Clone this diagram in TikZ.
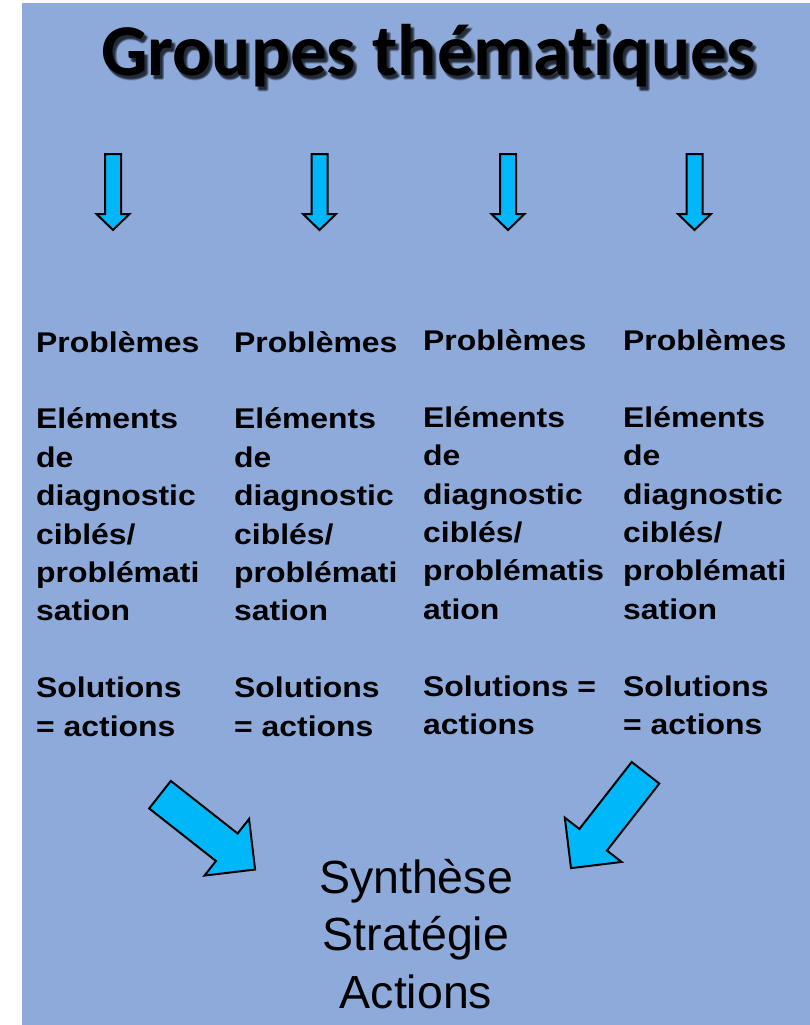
\documentclass[tikz,border=0pt]{standalone}
\usepackage{fontspec}
\setmainfont{Liberation Sans}
\newfontfamily\titlefont{Carlito}[Ligatures={NoCommon}]
\newfontfamily\colfont{Liberation Sans}[FakeStretch=1.12]
\definecolor{panelblue}{RGB}{142,170,219}
\definecolor{arrowcyan}{RGB}{0,183,250}
\tikzset{
  blockarrow/.style={draw=black, line width=2pt, fill=arrowcyan, line join=miter},
  coltext/.style={anchor=base west, inner sep=0pt, font=\colfont\bfseries\fontsize{28.5}{38.4}\selectfont},
  titletext/.style={anchor=base, inner sep=0pt, font=\titlefont\bfseries\fontsize{73}{80}\selectfont},
  down block/.pic={
    \draw[blockarrow] (-8,0) -- (8,0) -- (8,60) -- (16.5,60) -- (0,76)
      -- (-16.5,60) -- (-8,60) -- cycle;
  }
}
\newcommand{\diagblock}{%
  \draw[blockarrow] (0,-17.5) -- (85,-17.5) -- (85,-36) -- (121,0)
    -- (85,36) -- (85,17.5) -- (0,17.5) -- cycle;}
\newcommand{\colbody}[4]{\parbox[t]{200pt}{\raggedright Problèmes\\[38.4pt]
  Eléments\\ de\\ diagnostic\\ ciblés/\\ #1\\ #2\\[38.4pt] #3\\ #4}}
\begin{document}
\begin{tikzpicture}[x=1pt, y=-1pt]
  \useasboundingbox (0,0) rectangle (810,1025);
  % panel
  \fill[panelblue] (22,3) rectangle (810,1025);

  % title with soft drop shadow
  \foreach \dx/\dy [count=\i] in {3/3, 2/4, 4/2, 4/4, 2/2, 3/5}
    \node[titletext, text=black, opacity=0.2] (titleshadow\i) at (428.5+\dx, 76+\dy) {Groupes thématiques};
  \node[titletext] (title) at (428.5,76) {Groupes thématiques};

  % four downward arrows
  \pic at (113,154) {down block};
  \pic at (319.5,154) {down block};
  \pic at (508,154) {down block};
  \pic at (694.5,154) {down block};

  % columns of the thematic groups
  \node[coltext] (col1) at (36,352) {\colbody{problémati}{sation}{Solutions}{= actions}};
  \node[coltext] (col2) at (234,352) {\colbody{problémati}{sation}{Solutions}{= actions}};
  \node[coltext] (col3) at (423,350.5) {\colbody{problématis}{ation}{Solutions =}{actions}};
  \node[coltext] (col4) at (623,350.5) {\colbody{problémati}{sation}{Solutions}{= actions}};

  % converging arrows
  \begin{scope}[shift={(160,794.7)}, rotate=-38.2]
    \diagblock
  \end{scope}
  \begin{scope}[shift={(645.5,772.8)}, rotate=-128]
    \diagblock
  \end{scope}

  % synthesis
  \node[anchor=base, inner sep=0pt, font=\fontsize{46.5}{57.5}\selectfont] (synth) at (416,893)
    {\parbox[t]{320pt}{\centering Synthèse\\ Stratégie\\ Actions}};
\end{tikzpicture}
\end{document}
